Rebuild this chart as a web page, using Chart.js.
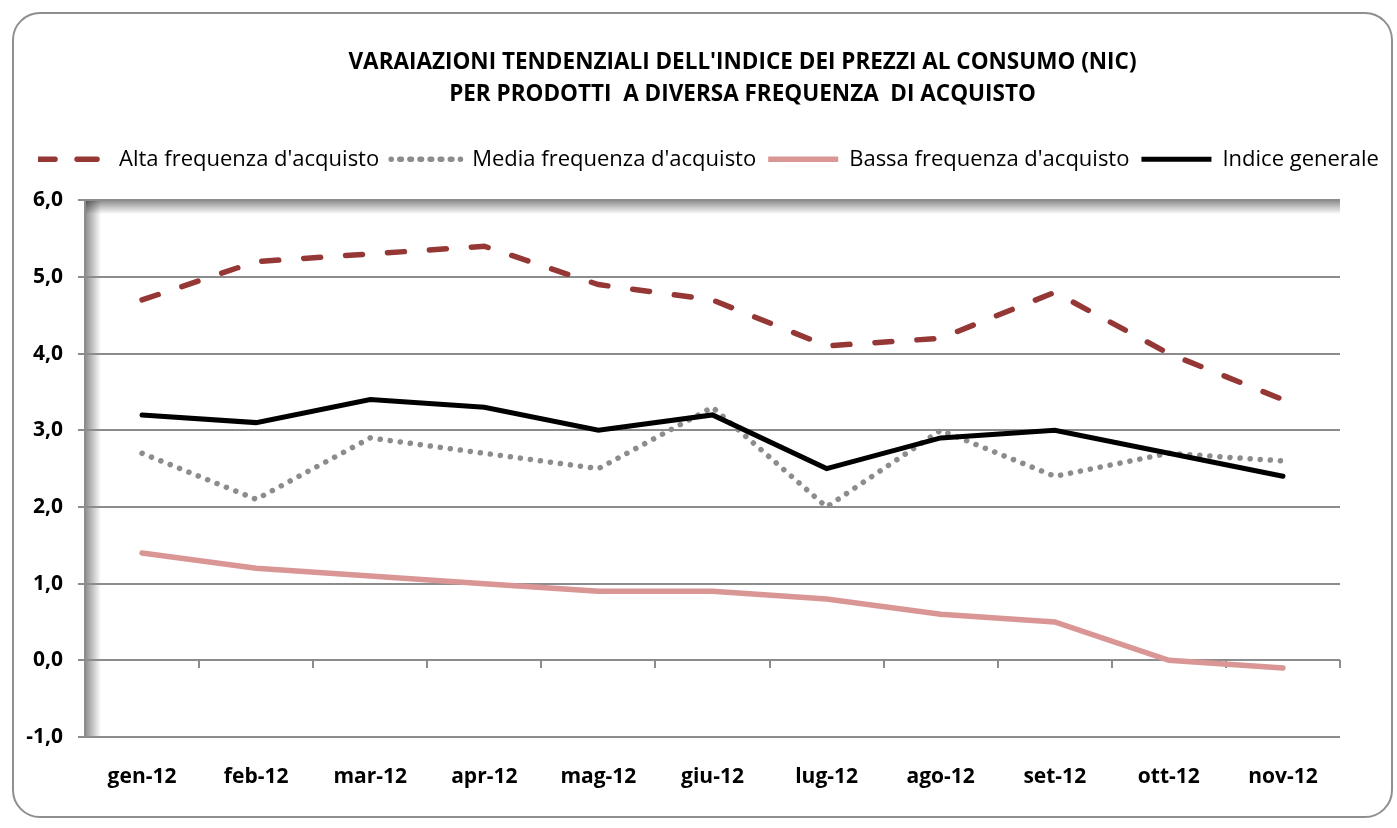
<!DOCTYPE html>
<html>
<head>
<meta charset="utf-8">
<script src="https://cdn.jsdelivr.net/npm/chart.js@4/dist/chart.umd.min.js"></script>
<style>
  html, body { margin: 0; padding: 0; background: #fff; }
  #frame {
    position: absolute; left: 12px; top: 12px; width: 1381px; height: 806px;
    border: 2px solid #8f8f8f; border-radius: 28px; box-sizing: border-box;
  }
  #wrap { position: absolute; left: 0; top: 0; width: 1397px; height: 828px; }
</style>
</head>
<body>
<div id="frame"></div>
<div id="wrap"><canvas id="nicChart" width="1397" height="828"></canvas></div>
<script>
// months and series (% change on same month of previous year)
const months = ['gen-12', 'feb-12', 'mar-12', 'apr-12', 'mag-12', 'giu-12',
                'lug-12', 'ago-12', 'set-12', 'ott-12', 'nov-12'];
const altaFreq   = [4.7, 5.2, 5.3, 5.4, 4.9, 4.7, 4.1, 4.2, 4.8, 4.0, 3.4];
const mediaFreq  = [2.7, 2.1, 2.9, 2.7, 2.5, 3.3, 2.0, 3.0, 2.4, 2.7, 2.6];
const bassaFreq  = [1.4, 1.2, 1.1, 1.0, 0.9, 0.9, 0.8, 0.6, 0.5, 0.0, -0.1];
const indiceGen  = [3.2, 3.1, 3.4, 3.3, 3.0, 3.2, 2.5, 2.9, 3.0, 2.7, 2.4];
const titleLines = ["VARAIAZIONI TENDENZIALI DELL'INDICE DEI PREZZI AL CONSUMO (NIC)",
                    "PER PRODOTTI  A DIVERSA FREQUENZA  DI ACQUISTO"];

const gridGray = '#8c8c8c';
const font = "'Open Sans', 'DejaVu Sans', sans-serif";

// inner shadow on the left and top edge of the plot area (Excel 3D look)
const plotShadow = {
  id: 'plotShadow',
  beforeDraw(chart) {
    const { ctx, chartArea: a } = chart;
    ctx.save();
    let g = ctx.createLinearGradient(a.left, 0, a.left + 16, 0);
    g.addColorStop(0, 'rgba(0,0,0,0.45)');
    g.addColorStop(1, 'rgba(0,0,0,0)');
    ctx.fillStyle = g;
    ctx.fillRect(a.left, a.top, 16, a.bottom - a.top);
    g = ctx.createLinearGradient(0, a.top, 0, a.top + 14);
    g.addColorStop(0, 'rgba(0,0,0,0.45)');
    g.addColorStop(1, 'rgba(0,0,0,0)');
    ctx.fillStyle = g;
    ctx.fillRect(a.left, a.top, a.right - a.left, 14);
    ctx.restore();
  }
};

// title in the original sits a bit right of the canvas centre
const titleShift = {
  id: 'titleShift',
  afterLayout(chart) {
    chart.titleBlock.left += 34;
    chart.titleBlock.right += 34;
  }
};

new Chart(document.getElementById('nicChart'), {
  type: 'line',
  data: {
    labels: months,
    datasets: [
      {
        label: "Alta frequenza d'acquisto",
        data: altaFreq,
        borderColor: '#953735',
        borderWidth: 5.5,
        borderDash: [17, 25],
        borderCapStyle: 'round',
        order: 3
      },
      {
        label: "Media frequenza d'acquisto",
        data: mediaFreq,
        borderColor: '#8c8c8c',
        borderWidth: 5.5,
        borderDash: [0.1, 10],
        borderCapStyle: 'round',
        order: 2
      },
      {
        label: "Bassa frequenza d'acquisto",
        data: bassaFreq,
        borderColor: '#d99694',
        borderWidth: 5.5,
        borderCapStyle: 'round',
        order: 1
      },
      {
        label: 'Indice generale',
        data: indiceGen,
        borderColor: '#000000',
        borderWidth: 5,
        borderCapStyle: 'round',
        order: 0
      }
    ]
  },
  options: {
    responsive: false,
    animation: false,
    layout: { padding: { left: 20, right: 0, top: 0, bottom: 31 } },
    elements: { point: { radius: 0 }, line: { tension: 0 } },
    plugins: {
      title: {
        display: true,
        text: titleLines,
        color: '#000',
        font: { family: font, size: 22.5, weight: 'bold', lineHeight: 1.45 },
        padding: { top: 46, bottom: 25 }
      },
      legend: {
        position: 'top',
        labels: {
          boxWidth: 70,
          boxHeight: 0,
          padding: 12,
          color: '#000',
          font: { family: font, size: 22 },
          sort: (a, b) => a.datasetIndex - b.datasetIndex
        }
      },
      tooltip: { enabled: false }
    },
    scales: {
      x: {
        type: 'category',
        offset: true,
        grid: { display: false, drawTicks: false },
        border: { display: false },
        ticks: { color: '#000', padding: 27, font: { family: font, size: 21, weight: 'bold' } },
        afterFit: s => { s.height = 60; }
      },
      x2: {
        type: 'category',
        labels: months,
        offset: true,
        position: { y: 0 },
        grid: { offset: true, drawOnChartArea: false, drawTicks: true, tickLength: 8, color: gridGray, lineWidth: 2 },
        border: { display: false },
        ticks: { display: false }
      },
      xTop: {
        type: 'category',
        labels: months,
        position: 'top',
        grid: { display: false, drawTicks: false },
        border: { display: false },
        ticks: { display: false },
        afterFit: s => { s.height = 20; }
      },
      y: {
        min: -1,
        max: 6,
        ticks: {
          stepSize: 1,
          color: '#000',
          padding: 15,
          font: { family: font, size: 21, weight: 'bold' },
          callback: v => v.toFixed(1).replace('.', ',')
        },
        grid: { color: gridGray, lineWidth: 2, tickLength: 7 },
        border: { color: gridGray, width: 2 },
        afterFit: s => { s.width = 65; }
      },
      yR: {
        position: 'right',
        min: -1,
        max: 6,
        grid: { display: false, drawTicks: false },
        border: { display: false },
        ticks: { display: false },
        afterFit: s => { s.width = 57; }
      }
    }
  },
  plugins: [plotShadow, titleShift]
});
</script>
</body>
</html>
